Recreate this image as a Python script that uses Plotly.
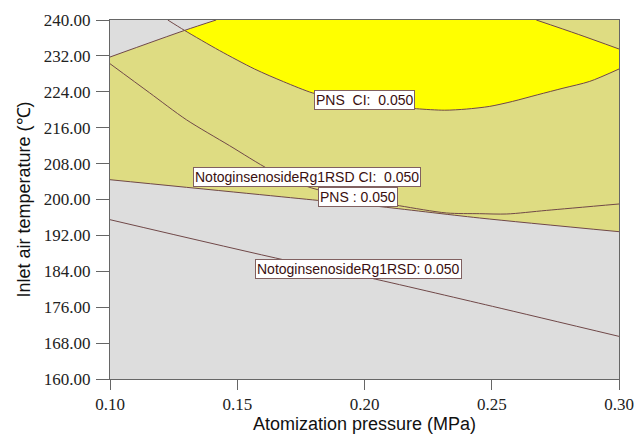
import plotly.graph_objects as go

# ---- data (x: MPa, y: deg C) ----
# PNS mean contour, upper-left branch (A)
pns_upper_x = [0.1000, 0.1293, 0.1417]
pns_upper_y = [231.75, 237.68, 240.00]
# PNS mean contour, lower branch (E)
pns_lower_x = [0.1000, 0.1817, 0.2046, 0.2452, 0.3000]
pns_lower_y = [204.41, 199.80, 198.51, 195.88, 192.83]
# PNS CI contour, lower branch (B)
pns_ci_x = [0.1227, 0.1293, 0.1430, 0.1568, 0.1682, 0.1797, 0.1900, 0.2000, 0.2100, 0.2204, 0.2315, 0.2400, 0.2492, 0.2581, 0.2681, 0.2780, 0.2885, 0.3000]
pns_ci_y = [240.00, 237.68, 233.20, 229.08, 226.25, 223.73, 222.50, 221.68, 220.85, 220.23, 219.90, 220.15, 220.75, 221.85, 223.35, 224.80, 226.32, 229.08]
# PNS CI contour, upper-right branch (D)
pns_ci2_x = [0.2675, 0.2840, 0.3000]
pns_ci2_y = [240.00, 236.80, 233.54]
# NotoginsenosideRg1RSD CI contour
rg1_ci_x = [0.1000, 0.1155, 0.1300, 0.1470, 0.1627, 0.1765, 0.1817, 0.1981, 0.2138, 0.2322, 0.2452, 0.2559, 0.2715, 0.3000]
rg1_ci_y = [230.26, 223.80, 217.78, 211.99, 206.64, 203.08, 202.18, 200.13, 198.60, 197.00, 196.84, 196.77, 197.57, 199.00]
# NotoginsenosideRg1RSD mean contour
rg1_x = [0.1000, 0.1693, 0.1994, 0.2503, 0.3000]
rg1_y = [195.50, 186.43, 182.87, 176.19, 169.50]

# contour labels
label_text = ["PNS  CI:  0.050", "NotoginsenosideRg1RSD CI:  0.050",
              "PNS : 0.050", "NotoginsenosideRg1RSD: 0.050"]
label_x = [0.1999, 0.1776, 0.1976, 0.1975]
label_y = [222.13, 204.91, 200.52, 184.52]

x_range = [0.10, 0.30]
y_range = [160, 240]

GRAY = "#DDDDDD"
KHAKI = "#DEDC82"
YELLOW = "#FFFF00"
LINE = "#704848"

fig = go.Figure()

# khaki region: above PNS lower branch, below PNS upper-left branch
kx = pns_lower_x + [x_range[1]] + pns_upper_x[::-1]
ky = pns_lower_y + [y_range[1]] + pns_upper_y[::-1]
fig.add_trace(go.Scatter(x=kx, y=ky, fill="toself", fillcolor=KHAKI, mode="none",
                         hoverinfo="skip", showlegend=False))

# yellow region: above PNS CI lower branch, below the upper-right branch and the PNS upper-left branch
yx = pns_ci_x[1:] + pns_ci2_x[::-1] + pns_upper_x[::-1][:2]
yy = pns_ci_y[1:] + pns_ci2_y[::-1] + pns_upper_y[::-1][:2]
fig.add_trace(go.Scatter(x=yx, y=yy, fill="toself", fillcolor=YELLOW, mode="none",
                         hoverinfo="skip", showlegend=False))

for xs, ys in [(pns_upper_x, pns_upper_y), (pns_lower_x, pns_lower_y), (pns_ci_x, pns_ci_y),
               (pns_ci2_x, pns_ci2_y), (rg1_ci_x, rg1_ci_y), (rg1_x, rg1_y)]:
    fig.add_trace(go.Scatter(x=xs, y=ys, mode="lines",
                             line=dict(color=LINE, width=1, shape="spline", smoothing=0.8),
                             hoverinfo="skip", showlegend=False))

for t, lx, ly in zip(label_text, label_x, label_y):
    fig.add_annotation(x=lx, y=ly, text=t, showarrow=False,
                       font=dict(family="Liberation Sans", size=14, color="#3A1010"),
                       bgcolor="white", bordercolor="#806060", borderwidth=1, borderpad=1)

tickfont = dict(family="Liberation Serif", size=17, color="#222222")
titlefont = dict(family="Liberation Sans", size=18, color="#111111")

fig.update_xaxes(range=x_range, tickvals=[0.10, 0.15, 0.20, 0.25, 0.30], tickformat=".2f",
                 showgrid=False, zeroline=False, showline=True, linecolor="#666666", linewidth=1,
                 mirror=True, ticks="outside", ticklen=10, tickcolor="#666666", automargin=False,
                 ticklabeloverflow="allow",
                 tickfont=tickfont, title=dict(text="Atomization pressure (MPa)", font=titlefont, standoff=2))
fig.update_yaxes(range=y_range, tickvals=[160, 168, 176, 184, 192, 200, 208, 216, 224, 232, 240],
                 tickformat=".2f", automargin=False, ticklabeloverflow="allow",
                 showgrid=False, zeroline=False, showline=True, linecolor="#666666", linewidth=1,
                 mirror=True, ticks="outside", ticklen=13, tickcolor="#666666", ticklabelstandoff=2,
                 tickfont=tickfont, title=dict(text="Inlet air temperature (℃)", font=titlefont, standoff=8))

fig.update_layout(width=637, height=443, margin=dict(l=110, r=18, t=20, b=64),
                  plot_bgcolor=GRAY, paper_bgcolor="white", hovermode=False)

# remove the default page margin so the figure fills the 637x443 window exactly
fig.write_html("out.html", config={"displayModeBar": False, "staticPlot": True},
               post_script="document.body.style.margin='0';document.body.style.overflow='hidden';")
